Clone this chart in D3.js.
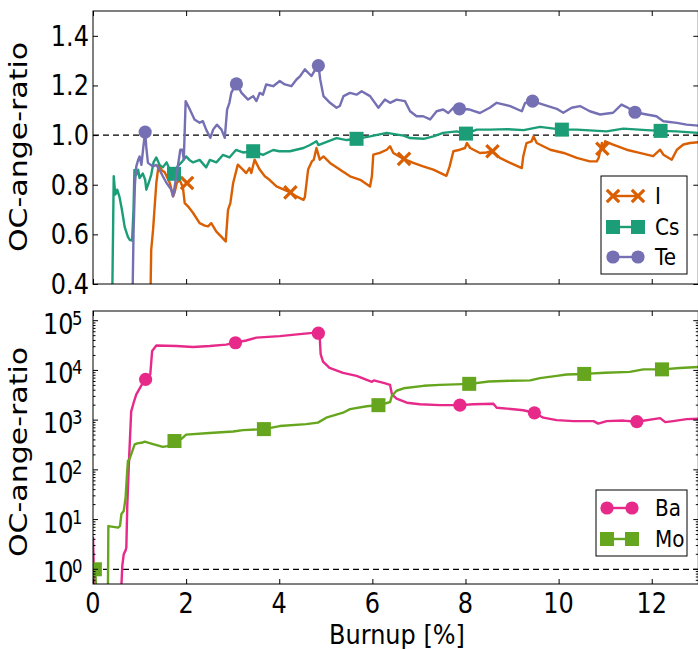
<!DOCTYPE html>
<html>
<head>
<meta charset="utf-8">
<script src="https://cdn.jsdelivr.net/npm/d3@7"></script>
<style>
  html, body { margin: 0; padding: 0; background: #fff; }
  svg { display: block; font-family: "DejaVu Sans", sans-serif; }
</style>
</head>
<body>
<svg id="chart" width="698" height="649"></svg>
<script>
// ---------------- data ----------------
const xTicks = [0, 2, 4, 6, 8, 10, 12];
const topYTicks = [0.4, 0.6, 0.8, 1.0, 1.2, 1.4];
const botYTicks = [1, 10, 100, 1000, 10000, 100000];
const botYExp = [0, 1, 2, 3, 4, 5];

const seriesTopNames = ["I", "Cs", "Te"];
const seriesBotNames = ["Ba", "Mo"];

const dataI = [[1.23,0.30],[1.25,0.537],[1.29,0.618],[1.32,0.70],[1.36,0.807],[1.41,0.881],[1.47,0.86],[1.54,0.85],[1.65,0.807],[1.72,0.753],[1.75,0.767],[1.80,0.807],[1.86,0.82],[1.93,0.79],[1.97,0.726],[2.04,0.713],[2.15,0.686],[2.29,0.645],[2.40,0.635],[2.47,0.632],[2.54,0.645],[2.65,0.611],[2.76,0.59],[2.85,0.571],[2.90,0.699],[2.95,0.726],[3.01,0.807],[3.11,0.881],[3.22,0.861],[3.29,0.847],[3.36,0.867],[3.40,0.847],[3.47,0.901],[3.58,0.861],[3.69,0.834],[3.79,0.82],[3.94,0.793],[4.10,0.78],[4.24,0.769],[4.37,0.753],[4.52,0.739],[4.55,0.75],[4.62,0.861],[4.70,0.894],[4.74,0.90],[4.80,0.948],[4.87,0.901],[4.95,0.914],[5.09,0.888],[5.30,0.861],[5.52,0.834],[5.74,0.820],[5.95,0.793],[5.99,0.834],[6.02,0.921],[6.16,0.928],[6.31,0.941],[6.38,0.955],[6.45,0.928],[6.67,0.904],[6.88,0.888],[7.09,0.874],[7.31,0.861],[7.59,0.836],[7.66,0.874],[7.74,0.935],[7.88,0.941],[7.99,0.948],[8.03,0.968],[8.10,0.948],[8.31,0.928],[8.45,0.93],[8.56,0.935],[8.74,0.908],[8.96,0.888],[9.21,0.867],[9.24,0.914],[9.31,0.968],[9.42,0.975],[9.46,0.995],[9.53,0.968],[9.82,0.941],[10.11,0.928],[10.39,0.908],[10.67,0.894],[10.82,0.894],[10.86,0.908],[10.93,0.968],[10.96,0.941],[11.0,0.975],[11.17,0.962],[11.46,0.941],[11.74,0.928],[12.03,0.915],[12.18,0.941],[12.25,0.921],[12.43,0.901],[12.54,0.941],[12.68,0.962],[12.82,0.968],[13.0,0.971]];
const markI = [[2.02,0.807],[4.24,0.769],[6.68,0.904],[8.58,0.935],[10.94,0.945]];

const dataCs = [[0.41,0.30],[0.43,0.60],[0.445,0.834],[0.48,0.76],[0.52,0.78],[0.57,0.75],[0.62,0.70],[0.68,0.63],[0.75,0.59],[0.79,0.578],[0.84,0.575],[0.87,0.70],[0.89,0.86],[0.93,0.84],[0.97,0.86],[1.0,0.827],[1.07,0.845],[1.12,0.82],[1.145,0.78],[1.20,0.81],[1.25,0.84],[1.30,0.89],[1.36,0.91],[1.43,0.88],[1.50,0.87],[1.58,0.89],[1.65,0.86],[1.74,0.85],[1.82,0.875],[1.90,0.89],[2.00,0.914],[2.07,0.90],[2.15,0.89],[2.29,0.90],[2.43,0.87],[2.51,0.90],[2.65,0.89],[2.79,0.92],[2.93,0.91],[3.07,0.94],[3.22,0.93],[3.44,0.935],[3.65,0.92],[3.87,0.94],[4.0,0.935],[4.23,0.935],[4.52,0.948],[4.66,0.96],[4.80,0.975],[4.84,0.96],[4.95,0.968],[5.23,0.988],[5.45,0.98],[5.66,0.985],[5.95,0.995],[6.31,1.009],[6.67,0.998],[6.81,0.988],[7.1,0.985],[7.31,0.995],[7.52,1.009],[7.81,1.015],[8.01,1.006],[8.24,1.022],[8.53,1.022],[8.89,1.024],[9.25,1.02],[9.60,1.033],[10.07,1.022],[10.39,1.022],[11.03,1.015],[11.39,1.026],[11.89,1.02],[12.19,1.017],[12.53,1.015],[13.0,1.009]];
const markCs = [[1.74,0.844],[3.44,0.935],[5.66,0.985],[8.01,1.006],[10.07,1.022],[12.19,1.017]];

const dataTe = [[0.845,0.30],[0.87,0.60],[0.90,0.80],[0.93,0.874],[0.97,0.90],[1.0,0.914],[1.04,0.88],[1.08,0.95],[1.12,1.012],[1.15,0.94],[1.18,0.888],[1.24,0.88],[1.29,0.874],[1.36,0.88],[1.43,0.86],[1.50,0.834],[1.57,0.81],[1.68,0.78],[1.72,0.753],[1.79,0.834],[1.875,0.941],[1.92,0.941],[1.95,0.901],[1.99,1.137],[2.08,1.103],[2.18,1.063],[2.29,1.05],[2.36,1.056],[2.43,1.022],[2.52,0.989],[2.58,1.022],[2.66,1.042],[2.76,1.022],[2.83,0.989],[2.88,1.103],[2.93,1.13],[2.97,1.17],[3.08,1.211],[3.19,1.17],[3.33,1.143],[3.44,1.157],[3.51,1.137],[3.58,1.17],[3.65,1.163],[3.72,1.204],[3.87,1.197],[4.01,1.218],[4.12,1.204],[4.26,1.197],[4.37,1.224],[4.45,1.238],[4.55,1.265],[4.69,1.238],[4.84,1.285],[4.88,1.224],[4.95,1.157],[5.09,1.13],[5.23,1.110],[5.30,1.117],[5.38,1.157],[5.52,1.170],[5.66,1.163],[5.77,1.177],[5.95,1.157],[6.13,1.11],[6.27,1.143],[6.38,1.13],[6.52,1.143],[6.70,1.137],[6.81,1.096],[6.95,1.076],[7.09,1.076],[7.24,1.063],[7.38,1.096],[7.52,1.103],[7.63,1.089],[7.74,1.110],[7.87,1.106],[8.09,1.103],[8.31,1.089],[8.52,1.11],[8.67,1.13],[8.96,1.117],[9.21,1.096],[9.28,1.13],[9.44,1.137],[9.67,1.123],[9.96,1.106],[10.1,1.09],[10.28,1.11],[10.46,1.117],[10.67,1.096],[10.89,1.083],[11.17,1.09],[11.35,1.123],[11.46,1.113],[11.64,1.092],[11.89,1.083],[12.1,1.076],[12.25,1.056],[12.54,1.049],[12.75,1.042],[13.0,1.038]];
const markTe = [[1.12,1.012],[3.08,1.206],[4.84,1.28],[7.87,1.106],[9.44,1.137],[11.64,1.092]];

const dataBa = [[0.0,4.5],[0.03,0.3],[0.60,0.3],[0.63,1.2],[0.66,2.0],[0.70,2.4],[0.716,2.75],[0.737,20],[0.773,150],[0.82,1500],[0.873,2240],[0.93,3300],[1.04,5000],[1.13,6600],[1.23,8300],[1.27,24500],[1.36,31600],[1.79,31000],[2.15,29500],[2.51,31000],[2.86,33100],[3.06,36300],[3.29,40000],[3.51,45700],[4.01,49000],[4.44,53700],[4.72,57000],[4.85,60000],[4.87,45000],[4.89,21000],[4.94,15000],[5.08,11200],[5.37,8900],[5.66,7760],[5.99,5900],[6.03,6300],[6.24,5600],[6.38,5100],[6.42,3300],[6.52,2700],[6.74,2240],[7.02,2090],[7.45,2000],[7.88,2000],[8.17,2090],[8.6,2140],[8.67,1780],[9.03,1660],[9.24,1580],[9.48,1410],[9.67,1120],[9.96,1000],[10.32,955],[10.75,955],[10.85,850],[11.03,955],[11.39,980],[11.68,930],[12.18,1100],[12.29,910],[12.46,955],[12.75,1050],[13.0,1070]];
const markBa = [[1.13,6600],[3.06,36000],[4.84,56000],[7.88,2000],[9.48,1400],[11.68,930]];

const dataMo = [[0.0,1.0],[0.05,1.0],[0.07,0.3],[0.32,0.3],[0.33,7.4],[0.54,6.9],[0.58,7.5],[0.61,12.9],[0.66,14.8],[0.70,27.5],[0.73,80],[0.75,151],[0.78,160],[0.82,204],[0.895,324],[0.95,340],[1.07,355],[1.11,370],[1.29,330],[1.50,290],[1.60,300],[1.75,380],[1.90,420],[2.0,510],[2.5,550],[3.01,590],[3.22,630],[3.67,660],[4.01,760],[4.58,830],[4.83,890],[5.01,1120],[5.37,1410],[5.52,1660],[5.88,1900],[6.13,2000],[6.33,2240],[6.38,2300],[6.42,3100],[6.52,3900],[6.67,4370],[7.1,4900],[7.45,5130],[8.10,5370],[8.5,6000],[9.0,6200],[9.39,6300],[9.6,7000],[9.96,7760],[10.17,8300],[10.55,8500],[11.0,9000],[11.53,9330],[11.82,10500],[12.24,10500],[12.6,11200],[13.0,11700]];
const markMo = [[0.04,1.0],[1.75,380],[3.67,660],[6.13,2000],[8.08,5370],[10.55,8500],[12.22,10500]];

// ---------------- layout & styles ----------------
const C = { I: "#d95f02", Cs: "#1b9e77", Te: "#7570b3", Ba: "#e7298a", Mo: "#66a61e" };
const L = 93, R = 698.3;
const topP = { t: 11, b: 284 };
const botP = { t: 311, b: 584 };
const SY = 1.17; // vertical text stretch
const svg = d3.select("#chart");

const x = d3.scaleLinear().domain([0, 13]).range([L, R]);
const yTop = d3.scaleLinear().domain([0.4, 1.5]).range([topP.b, topP.t]);
const yBot = d3.scaleLog().domain([0.506, 156700]).range([botP.b, botP.t]);

function stext(g, px, py, str, size, anchor, sy) {
  return g.append("text")
    .attr("transform", `translate(${px},${py}) scale(1,${sy || SY})`)
    .attr("font-size", size).attr("text-anchor", anchor || "start")
    .attr("fill", "#000").text(str);
}

const defs = svg.append("defs");
defs.append("clipPath").attr("id", "clipTop").append("rect")
  .attr("x", L).attr("y", topP.t).attr("width", R - L).attr("height", topP.b - topP.t);
defs.append("clipPath").attr("id", "clipBot").append("rect")
  .attr("x", L).attr("y", botP.t).attr("width", R - L).attr("height", botP.b - botP.t);

function drawMarker(g, kind, px, py, color) {
  if (kind === "circle") {
    g.append("circle").attr("cx", px).attr("cy", py).attr("r", 6.6).attr("fill", color);
  } else if (kind === "square") {
    g.append("rect").attr("x", px - 7).attr("y", py - 7).attr("width", 14).attr("height", 14).attr("fill", color);
  } else {
    const s = 6.2;
    g.append("path").attr("d", `M${px - s},${py - s}L${px + s},${py + s}M${px - s},${py + s}L${px + s},${py - s}`)
      .attr("stroke", color).attr("stroke-width", 3.2).attr("fill", "none");
  }
}

function panel(y, P, clipId, series) {
  const g = svg.append("g");
  const inner = g.append("g").attr("clip-path", `url(#${clipId})`);
  // dashed reference at 1
  inner.append("line").attr("x1", L).attr("x2", R).attr("y1", y(1)).attr("y2", y(1))
    .attr("stroke", "#000").attr("stroke-width", 1.3).attr("stroke-dasharray", "6,4");
  const line = d3.line().x(d => x(d[0])).y(d => y(d[1]));
  series.forEach(s => {
    inner.append("path").attr("d", line(s.data)).attr("fill", "none")
      .attr("stroke", s.color).attr("stroke-width", 2.4).attr("stroke-linejoin", "round");
    s.marks.forEach(m => drawMarker(inner, s.kind, x(m[0]), y(m[1]), s.color));
  });
  // ticks (inward, all four sides)
  const axB = g.append("g").attr("transform", `translate(0,${P.b})`)
    .call(d3.axisBottom(x).tickValues(xTicks).tickSize(-5).tickFormat(""));
  const axT = g.append("g").attr("transform", `translate(0,${P.t})`)
    .call(d3.axisTop(x).tickValues(xTicks).tickSize(-5).tickFormat(""));
  [axB, axT].forEach(a => { a.select(".domain").remove(); a.selectAll("line").attr("stroke", "#000"); });
  // frame
  g.append("rect").attr("x", L).attr("y", P.t).attr("width", R - L).attr("height", P.b - P.t)
    .attr("fill", "none").attr("stroke", "#000").attr("stroke-width", 1);
  return g;
}

// ---------------- top panel ----------------
const gTop = panel(yTop, topP, "clipTop", [
  { data: dataI, marks: markI, color: C.I, kind: "x" },
  { data: dataCs, marks: markCs, color: C.Cs, kind: "square" },
  { data: dataTe, marks: markTe, color: C.Te, kind: "circle" }
]);
[d3.axisLeft(yTop), d3.axisRight(yTop)].forEach((ax, i) => {
  const a = gTop.append("g").attr("transform", `translate(${i === 0 ? L : R},0)`)
    .call(ax.tickValues(topYTicks).tickSize(-5).tickFormat(""));
  a.select(".domain").remove(); a.selectAll("line").attr("stroke", "#000");
});
topYTicks.forEach(v => stext(gTop, 89, yTop(v) + 10, d3.format(".1f")(v), 24, "end"));

// ---------------- bottom panel ----------------
const gBot = panel(yBot, botP, "clipBot", [
  { data: dataBa, marks: markBa, color: C.Ba, kind: "circle" },
  { data: dataMo, marks: markMo, color: C.Mo, kind: "square" }
]);
const minorVals = [];
for (let k = -1; k <= 5; k++) for (let m = 2; m <= 9; m++) {
  const v = m * Math.pow(10, k);
  if (v > 0.506 && v < 156700) minorVals.push(v);
}
[[L, 1], [R, -1]].forEach(([px, dir]) => {
  botYTicks.forEach(v => gBot.append("line").attr("x1", px).attr("x2", px + dir * 5)
    .attr("y1", yBot(v)).attr("y2", yBot(v)).attr("stroke", "#000"));
  minorVals.forEach(v => gBot.append("line").attr("x1", px).attr("x2", px + dir * 2.5)
    .attr("y1", yBot(v)).attr("y2", yBot(v)).attr("stroke", "#000"));
});
botYTicks.forEach((v, i) => {
  const py = yBot(v);
  stext(gBot, 73.5, py + 13, "10", 24, "end");
  stext(gBot, 72, py + 4, String(botYExp[i]), 16.5, "start");
});
xTicks.forEach(v => stext(gBot, x(v), 612.5, String(v), 24, "middle"));
stext(gBot, 397, 644, "Burnup [%]", 24, "middle", 1.1);

// ---------------- y labels ----------------
[[147, 0], [452, 1]].forEach(([cy]) => {
  svg.append("text")
    .attr("transform", `translate(27,${cy}) rotate(-90) scale(1.25,1)`)
    .attr("font-size", 24).attr("text-anchor", "middle").attr("fill", "#000")
    .text("OC-ange-ratio");
});

// ---------------- legends ----------------
function legend(box, entries, x1, x2, tx) {
  const g = svg.append("g");
  g.append("rect").attr("x", box.x).attr("y", box.y).attr("width", box.w).attr("height", box.h)
    .attr("fill", "#fff").attr("stroke", "#000").attr("stroke-width", 1);
  entries.forEach(e => {
    g.append("line").attr("x1", x1).attr("x2", x2).attr("y1", e.y).attr("y2", e.y)
      .attr("stroke", e.color).attr("stroke-width", 2.4);
    drawMarker(g, e.kind, x1, e.y, e.color);
    drawMarker(g, e.kind, x2, e.y, e.color);
    stext(g, tx, e.y + 7.5, e.name, 20, "start");
  });
}
legend({ x: 601, y: 176, w: 86, h: 98 }, [
  { name: seriesTopNames[0], color: C.I, kind: "x", y: 196 },
  { name: seriesTopNames[1], color: C.Cs, kind: "square", y: 227 },
  { name: seriesTopNames[2], color: C.Te, kind: "circle", y: 257 }
], 613, 638, 655);
legend({ x: 596, y: 490, w: 91, h: 66 }, [
  { name: seriesBotNames[0], color: C.Ba, kind: "circle", y: 508 },
  { name: seriesBotNames[1], color: C.Mo, kind: "square", y: 539 }
], 607, 632, 655);
</script>
</body>
</html>
